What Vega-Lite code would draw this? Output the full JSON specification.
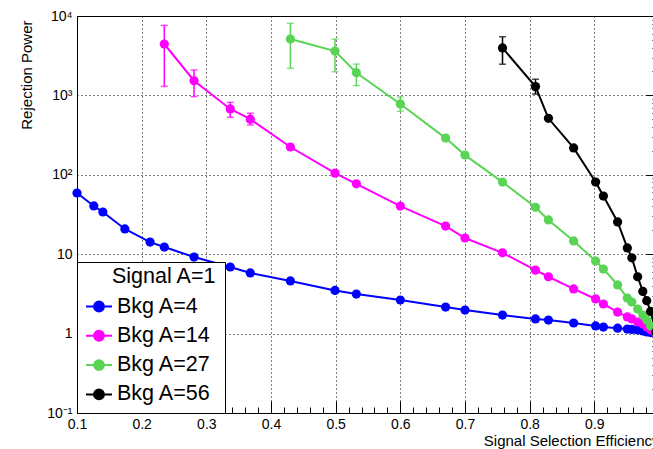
{
  "$schema": "https://vega.github.io/schema/vega-lite/v6.json",
  "autosize": "none",
  "width": 582,
  "height": 397,
  "padding": {"left": 77, "top": 16, "right": -6, "bottom": 36},
  "background": "white",
  "config": {
    "font": "Liberation Sans",
    "view": {"stroke": "black", "strokeWidth": 1}
  },
  "datasets": {
    "pts": [
      {"s": "Bkg A=4", "x": 0.1, "y": 59},
      {"s": "Bkg A=4", "x": 0.126, "y": 40.5},
      {"s": "Bkg A=4", "x": 0.14, "y": 34},
      {"s": "Bkg A=4", "x": 0.174, "y": 20.8},
      {"s": "Bkg A=4", "x": 0.213, "y": 14.2},
      {"s": "Bkg A=4", "x": 0.235, "y": 12.3},
      {"s": "Bkg A=4", "x": 0.281, "y": 9.2},
      {"s": "Bkg A=4", "x": 0.337, "y": 6.9},
      {"s": "Bkg A=4", "x": 0.368, "y": 5.8},
      {"s": "Bkg A=4", "x": 0.43, "y": 4.6},
      {"s": "Bkg A=4", "x": 0.499, "y": 3.5},
      {"s": "Bkg A=4", "x": 0.532, "y": 3.15},
      {"s": "Bkg A=4", "x": 0.6, "y": 2.65},
      {"s": "Bkg A=4", "x": 0.67, "y": 2.16},
      {"s": "Bkg A=4", "x": 0.7, "y": 1.98},
      {"s": "Bkg A=4", "x": 0.758, "y": 1.71},
      {"s": "Bkg A=4", "x": 0.809, "y": 1.53},
      {"s": "Bkg A=4", "x": 0.829, "y": 1.48},
      {"s": "Bkg A=4", "x": 0.868, "y": 1.36},
      {"s": "Bkg A=4", "x": 0.902, "y": 1.25},
      {"s": "Bkg A=4", "x": 0.914, "y": 1.21},
      {"s": "Bkg A=4", "x": 0.936, "y": 1.17},
      {"s": "Bkg A=4", "x": 0.951, "y": 1.14},
      {"s": "Bkg A=4", "x": 0.958, "y": 1.13},
      {"s": "Bkg A=4", "x": 0.967, "y": 1.11},
      {"s": "Bkg A=4", "x": 0.975, "y": 1.08},
      {"s": "Bkg A=4", "x": 0.981, "y": 1.05},
      {"s": "Bkg A=4", "x": 0.987, "y": 1.03},
      {"s": "Bkg A=4", "x": 0.995, "y": 1.0},
      {"s": "Bkg A=14", "x": 0.235, "y": 4440, "lo": 1300, "hi": 7600},
      {"s": "Bkg A=14", "x": 0.281, "y": 1530, "lo": 964, "hi": 2090},
      {"s": "Bkg A=14", "x": 0.337, "y": 675, "lo": 530, "hi": 818},
      {"s": "Bkg A=14", "x": 0.368, "y": 501, "lo": 424, "hi": 596},
      {"s": "Bkg A=14", "x": 0.43, "y": 224},
      {"s": "Bkg A=14", "x": 0.499, "y": 105},
      {"s": "Bkg A=14", "x": 0.532, "y": 77},
      {"s": "Bkg A=14", "x": 0.6, "y": 40.4},
      {"s": "Bkg A=14", "x": 0.67, "y": 22.6},
      {"s": "Bkg A=14", "x": 0.7, "y": 16},
      {"s": "Bkg A=14", "x": 0.758, "y": 10.4},
      {"s": "Bkg A=14", "x": 0.809, "y": 6.3},
      {"s": "Bkg A=14", "x": 0.829, "y": 5.2},
      {"s": "Bkg A=14", "x": 0.868, "y": 3.65},
      {"s": "Bkg A=14", "x": 0.902, "y": 2.73},
      {"s": "Bkg A=14", "x": 0.914, "y": 2.36},
      {"s": "Bkg A=14", "x": 0.936, "y": 1.87},
      {"s": "Bkg A=14", "x": 0.951, "y": 1.62},
      {"s": "Bkg A=14", "x": 0.958, "y": 1.53},
      {"s": "Bkg A=14", "x": 0.967, "y": 1.4},
      {"s": "Bkg A=14", "x": 0.975, "y": 1.32},
      {"s": "Bkg A=14", "x": 0.981, "y": 1.21},
      {"s": "Bkg A=14", "x": 0.987, "y": 1.12},
      {"s": "Bkg A=14", "x": 0.995, "y": 1.02},
      {"s": "Bkg A=27", "x": 0.43, "y": 5130, "lo": 2190, "hi": 8090},
      {"s": "Bkg A=27", "x": 0.499, "y": 3620, "lo": 1990, "hi": 5130},
      {"s": "Bkg A=27", "x": 0.532, "y": 1930, "lo": 1325, "hi": 2480},
      {"s": "Bkg A=27", "x": 0.6, "y": 780, "lo": 630, "hi": 955},
      {"s": "Bkg A=27", "x": 0.67, "y": 290},
      {"s": "Bkg A=27", "x": 0.7, "y": 177},
      {"s": "Bkg A=27", "x": 0.758, "y": 81},
      {"s": "Bkg A=27", "x": 0.809, "y": 39},
      {"s": "Bkg A=27", "x": 0.829, "y": 27},
      {"s": "Bkg A=27", "x": 0.868, "y": 14.7},
      {"s": "Bkg A=27", "x": 0.902, "y": 8.2},
      {"s": "Bkg A=27", "x": 0.914, "y": 6.5},
      {"s": "Bkg A=27", "x": 0.936, "y": 4.1},
      {"s": "Bkg A=27", "x": 0.951, "y": 2.8},
      {"s": "Bkg A=27", "x": 0.958, "y": 2.5},
      {"s": "Bkg A=27", "x": 0.967, "y": 2.04},
      {"s": "Bkg A=27", "x": 0.975, "y": 1.71},
      {"s": "Bkg A=27", "x": 0.981, "y": 1.48},
      {"s": "Bkg A=27", "x": 0.987, "y": 1.25},
      {"s": "Bkg A=27", "x": 0.995, "y": 1.03},
      {"s": "Bkg A=56", "x": 0.758, "y": 3960, "lo": 2470, "hi": 5480},
      {"s": "Bkg A=56", "x": 0.809, "y": 1290, "lo": 1040, "hi": 1600},
      {"s": "Bkg A=56", "x": 0.829, "y": 515},
      {"s": "Bkg A=56", "x": 0.868, "y": 218},
      {"s": "Bkg A=56", "x": 0.902, "y": 81},
      {"s": "Bkg A=56", "x": 0.914, "y": 54},
      {"s": "Bkg A=56", "x": 0.936, "y": 25.5},
      {"s": "Bkg A=56", "x": 0.951, "y": 12},
      {"s": "Bkg A=56", "x": 0.958, "y": 9},
      {"s": "Bkg A=56", "x": 0.967, "y": 5.2},
      {"s": "Bkg A=56", "x": 0.975, "y": 3.4},
      {"s": "Bkg A=56", "x": 0.981, "y": 2.6},
      {"s": "Bkg A=56", "x": 0.987, "y": 1.9},
      {"s": "Bkg A=56", "x": 0.995, "y": 1.05}
    ]
  },
  "data": {"name": "pts"},
  "resolve": {"axis": {"x": "independent", "y": "independent"}},
  "layer": [
    {
      "transform": [{"filter": "isValid(datum.lo)"}],
      "mark": {"type": "rule", "strokeWidth": 1.5},
      "encoding": {
        "x": {"field": "x", "type": "quantitative",
          "scale": {"domain": [0.1, 1.0], "nice": false, "zero": false},
          "axis": {"orient": "bottom", "tickCount": 1000, "values": [0.1, 0.2, 0.3, 0.4, 0.5, 0.6, 0.7, 0.8, 0.9], "format": ".1f",
            "ticks": false, "labelPadding": 4, "labelFontSize": 14, "labelColor": "black", "labelFlush": false, "labelOverlap": false, "labelBound": false,
            "domain": true, "domainColor": "black", "domainWidth": 1,
            "grid": true, "gridColor": "black", "gridDash": [1, 3], "gridWidth": 1, "gridOpacity": 1,
            "title": "Signal Selection Efficiency", "titleFontSize": 15, "titleFontWeight": "normal", "titleColor": "black",
            "titleX": 582, "titleY": 27, "titleAlign": "right", "titleBaseline": "middle"}},
        "y": {"field": "lo", "type": "quantitative",
          "scale": {"type": "log", "domain": [0.1, 10000], "nice": false},
          "axis": {"orient": "left", "tickCount": 1000, "values": [0.1, 1, 10, 100, 1000, 10000],
            "labelExpr": "datum.value > 5000 ? '10⁴' : datum.value > 500 ? '10³' : datum.value > 50 ? '10²' : datum.value > 5 ? '10' : datum.value > 0.5 ? '1' : '10⁻¹'",
            "ticks": false, "labelPadding": 5, "labelFontSize": 14, "labelColor": "black", "labelFlush": false, "labelOverlap": false, "labelBound": false,
            "domain": true, "domainColor": "black", "domainWidth": 1,
            "grid": true, "gridColor": "black", "gridDash": [1, 3], "gridWidth": 1, "gridOpacity": 1,
            "title": "Rejection Power", "titleFontSize": 15, "titleFontWeight": "normal", "titleColor": "black",
            "titleX": -51, "titleY": 4, "titleAlign": "right", "titleBaseline": "middle", "titleAngle": -90}},
        "y2": {"field": "hi"},
        "color": {"field": "s", "type": "nominal",
          "scale": {"domain": ["Bkg A=4", "Bkg A=14", "Bkg A=27", "Bkg A=56"], "range": ["#0000ff", "#ff00ff", "#59d454", "#000000"]}}
      }
    },
    {
      "transform": [{"filter": "isValid(datum.lo)"}],
      "mark": {"type": "tick", "orient": "horizontal", "size": 7, "thickness": 1.5},
      "encoding": {
        "x": {"field": "x", "type": "quantitative",
          "axis": {"orient": "bottom", "tickCount": 1000, "values": [0.1, 0.2, 0.3, 0.4, 0.5, 0.6, 0.7, 0.8, 0.9], "labels": false, "domain": false, "ticks": false, "title": null,
            "grid": true, "gridColor": "black", "gridWidth": 1, "gridOpacity": 1, "gridDash": [12, 2000], "gridDashOffset": 1627}},
        "y": {"field": "lo", "type": "quantitative",
          "axis": {"orient": "left", "tickCount": 1000, "values": [0.1, 1, 10, 100, 1000, 10000], "labels": false, "domain": false, "ticks": false, "title": null,
            "grid": true, "gridColor": "black", "gridWidth": 1, "gridOpacity": 1, "gridDash": [13, 2000], "gridDashOffset": 1444}},
        "color": {"field": "s", "type": "nominal"}
      }
    },
    {
      "transform": [{"filter": "isValid(datum.hi)"}],
      "mark": {"type": "tick", "orient": "horizontal", "size": 7, "thickness": 1.5},
      "encoding": {
        "x": {"field": "x", "type": "quantitative",
          "axis": {"orient": "bottom", "tickCount": 1000, "values": [0.12, 0.14, 0.16, 0.18, 0.22, 0.24, 0.26, 0.28, 0.32, 0.34, 0.36, 0.38, 0.42, 0.44, 0.46, 0.48, 0.52, 0.54, 0.56, 0.58, 0.62, 0.64, 0.66, 0.68, 0.72, 0.74, 0.76, 0.78, 0.82, 0.84, 0.86, 0.88, 0.92, 0.94, 0.96, 0.98],
            "labels": false, "domain": false, "ticks": false, "title": null,
            "grid": true, "gridColor": "black", "gridWidth": 1, "gridOpacity": 1, "gridDash": [6, 2000], "gridDashOffset": 1615}},
        "y": {"field": "hi", "type": "quantitative",
          "axis": {"orient": "left", "tickCount": 1000, "values": [0.2, 0.3, 0.4, 0.5, 0.6, 0.7, 0.8, 0.9, 2, 3, 4, 5, 6, 7, 8, 9, 20, 30, 40, 50, 60, 70, 80, 90, 200, 300, 400, 500, 600, 700, 800, 900, 2000, 3000, 4000, 5000, 6000, 7000, 8000, 9000],
            "labels": false, "domain": false, "ticks": false, "title": null,
            "grid": true, "gridColor": "black", "gridWidth": 1, "gridOpacity": 1, "gridDash": [7, 2000], "gridDashOffset": 1432}},
        "color": {"field": "s", "type": "nominal"}
      }
    },
    {
      "mark": {"type": "line", "strokeWidth": 2},
      "encoding": {
        "x": {"field": "x", "type": "quantitative", "axis": null},
        "y": {"field": "y", "type": "quantitative", "axis": null},
        "color": {"field": "s", "type": "nominal",
          "legend": {
            "orient": "bottom-left", "offset": 0,
            "title": "Signal A=1",
            "titleFont": "Liberation Sans", "titleFontSize": 21.5, "titleFontWeight": "normal", "titleColor": "black",
            "titleAnchor": "start", "titlePadding": 1,
            "labelFont": "Liberation Sans", "labelFontSize": 21.5, "labelColor": "black", "labelOffset": 4, "labelLimit": 300,
            "symbolType": "M-1,0H1M0.38,0A0.38,0.38,0,1,1,-0.38,0A0.38,0.38,0,1,1,0.38,0Z",
            "symbolSize": 676, "symbolStrokeWidth": 2, "symbolOffset": 0,
            "fillColor": "white", "strokeColor": "black", "padding": 8, "rowPadding": 4.3,
            "encode": {
              "title": {"update": {"dx": {"value": 27}, "dy": {"value": -4}}},
              "symbols": {"update": {
                "fill": {"scale": "color", "field": "value"},
                "stroke": {"scale": "color", "field": "value"},
                "strokeWidth": {"value": 2},
                "opacity": {"value": 1}}}}
          }}
      }
    },
    {
      "mark": {"type": "point", "filled": true, "shape": "circle", "size": 85, "opacity": 1},
      "encoding": {
        "x": {"field": "x", "type": "quantitative", "axis": null},
        "y": {"field": "y", "type": "quantitative", "axis": null},
        "color": {"field": "s", "type": "nominal"}
      }
    }
  ]
}
